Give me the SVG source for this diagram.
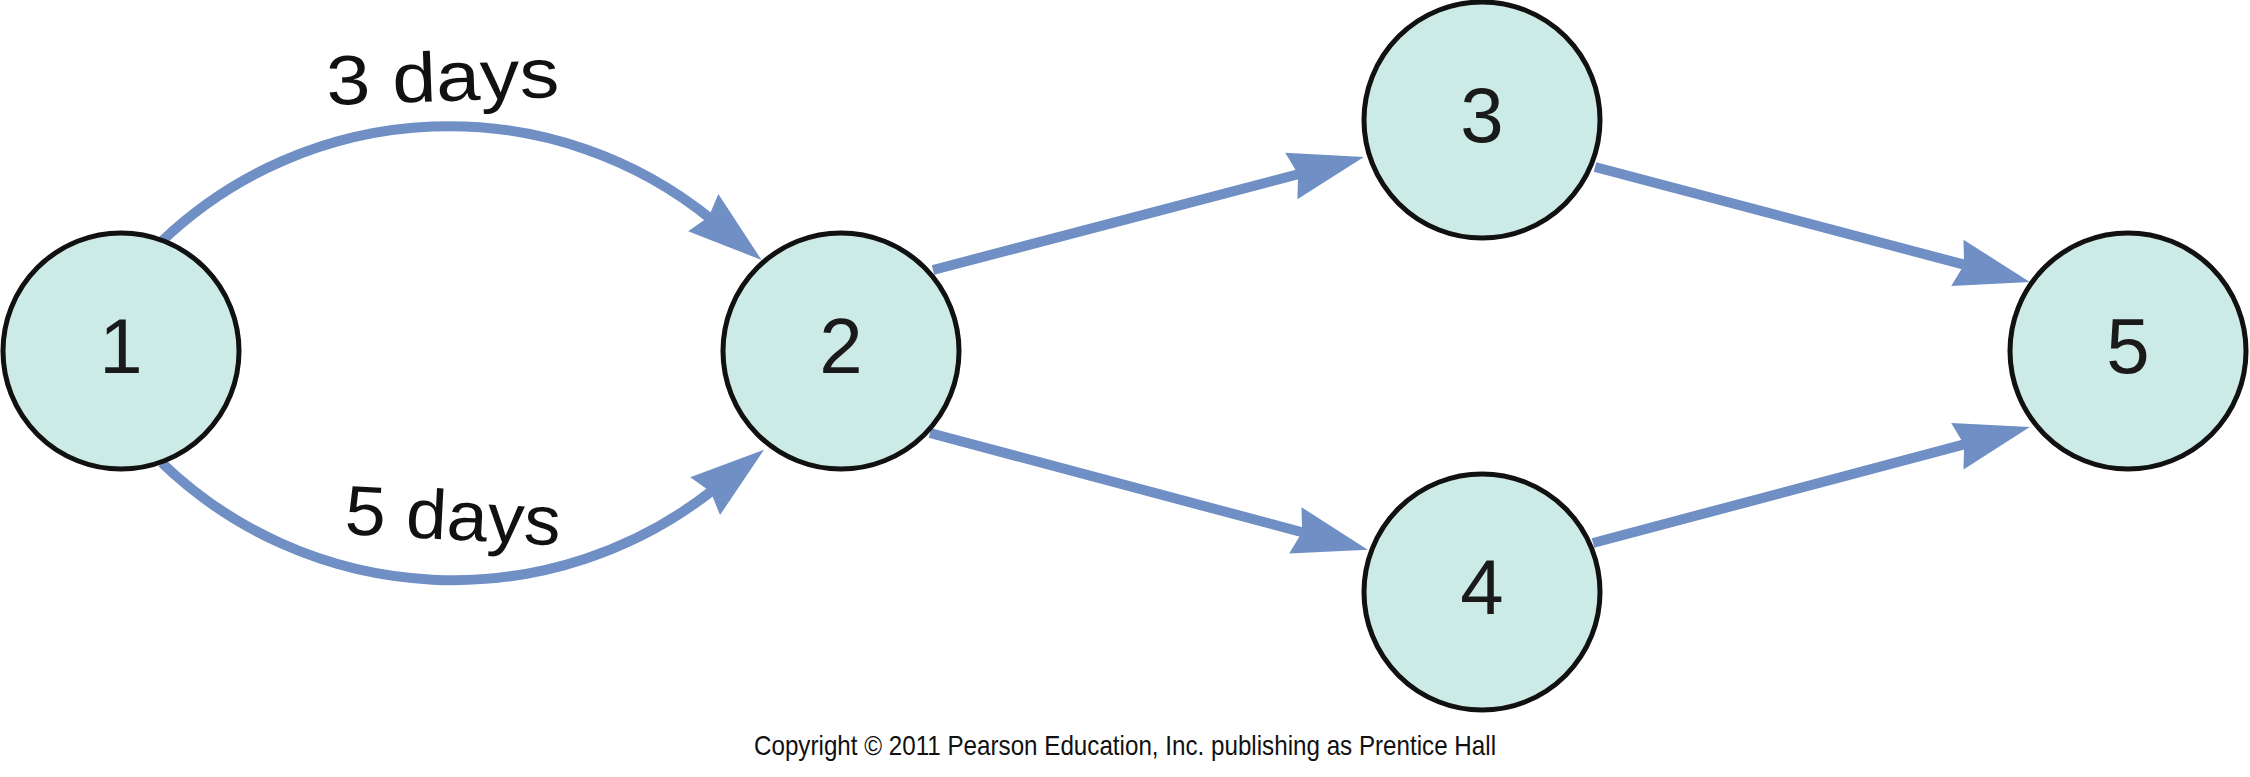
<svg xmlns="http://www.w3.org/2000/svg" width="2250" height="777" viewBox="0 0 2250 777">
  <style>
    .node circle { fill: #cdebe6; stroke: #111; stroke-width: 5; }
    .node text { font-family: "Liberation Sans", Arial, sans-serif; font-size: 78px; fill: #1a1a1a; text-anchor: middle; }
    .edge { fill: none; stroke: #708fc5; stroke-width: 10; marker-end: url(#arrow); }
    .lbl { font-family: "Liberation Sans", Arial, sans-serif; font-size: 70px; fill: #111; }
    .copy { font-family: "Liberation Sans", Arial, sans-serif; font-size: 28px; fill: #111; }
  </style>
  <defs>
    <marker id="arrow" markerUnits="userSpaceOnUse" markerWidth="80" markerHeight="54" viewBox="0 -27 80 54" refX="10" refY="0" orient="auto">
      <path d="M75,0 L0,-24 L7,0 L0,24 Z" fill="#708fc5"/>
    </marker>
  </defs>
  <rect width="2250" height="777" fill="#ffffff"/>

  <g id="connectors">
    <path class="edge" d="M162,241 A416,416 0 0,1 711,219"/>
    <path class="edge" d="M162,463 A420,420 0 0,0 713,490"/>
    <path class="edge" d="M933,270 L1301,173.5"/>
    <path class="edge" d="M930,433 L1305,533"/>
    <path class="edge" d="M1595,167 L1967,265.4"/>
    <path class="edge" d="M1593,543 L1967,443.7"/>
    <text class="lbl" x="327" y="105" textLength="233" lengthAdjust="spacingAndGlyphs" transform="rotate(-2 327 105)">3 days</text>
    <text class="lbl" x="344" y="534" textLength="216" lengthAdjust="spacingAndGlyphs" transform="rotate(3 344 534)">5 days</text>
  </g>

  <g id="node1" class="node">
    <circle cx="121" cy="351" r="118"/>
    <text x="121" y="373">1</text>
  </g>
  <g id="node2" class="node">
    <circle cx="841" cy="351" r="118"/>
    <text x="841" y="373">2</text>
  </g>
  <g id="node3" class="node">
    <circle cx="1482" cy="120" r="118"/>
    <text x="1482" y="142">3</text>
  </g>
  <g id="node4" class="node">
    <circle cx="1482" cy="592" r="118"/>
    <text x="1482" y="614">4</text>
  </g>
  <g id="node5" class="node">
    <circle cx="2128" cy="351" r="118"/>
    <text x="2128" y="373">5</text>
  </g>

  <text class="copy" x="754" y="755" textLength="742" lengthAdjust="spacingAndGlyphs">Copyright © 2011 Pearson Education, Inc. publishing as Prentice Hall</text>
</svg>
